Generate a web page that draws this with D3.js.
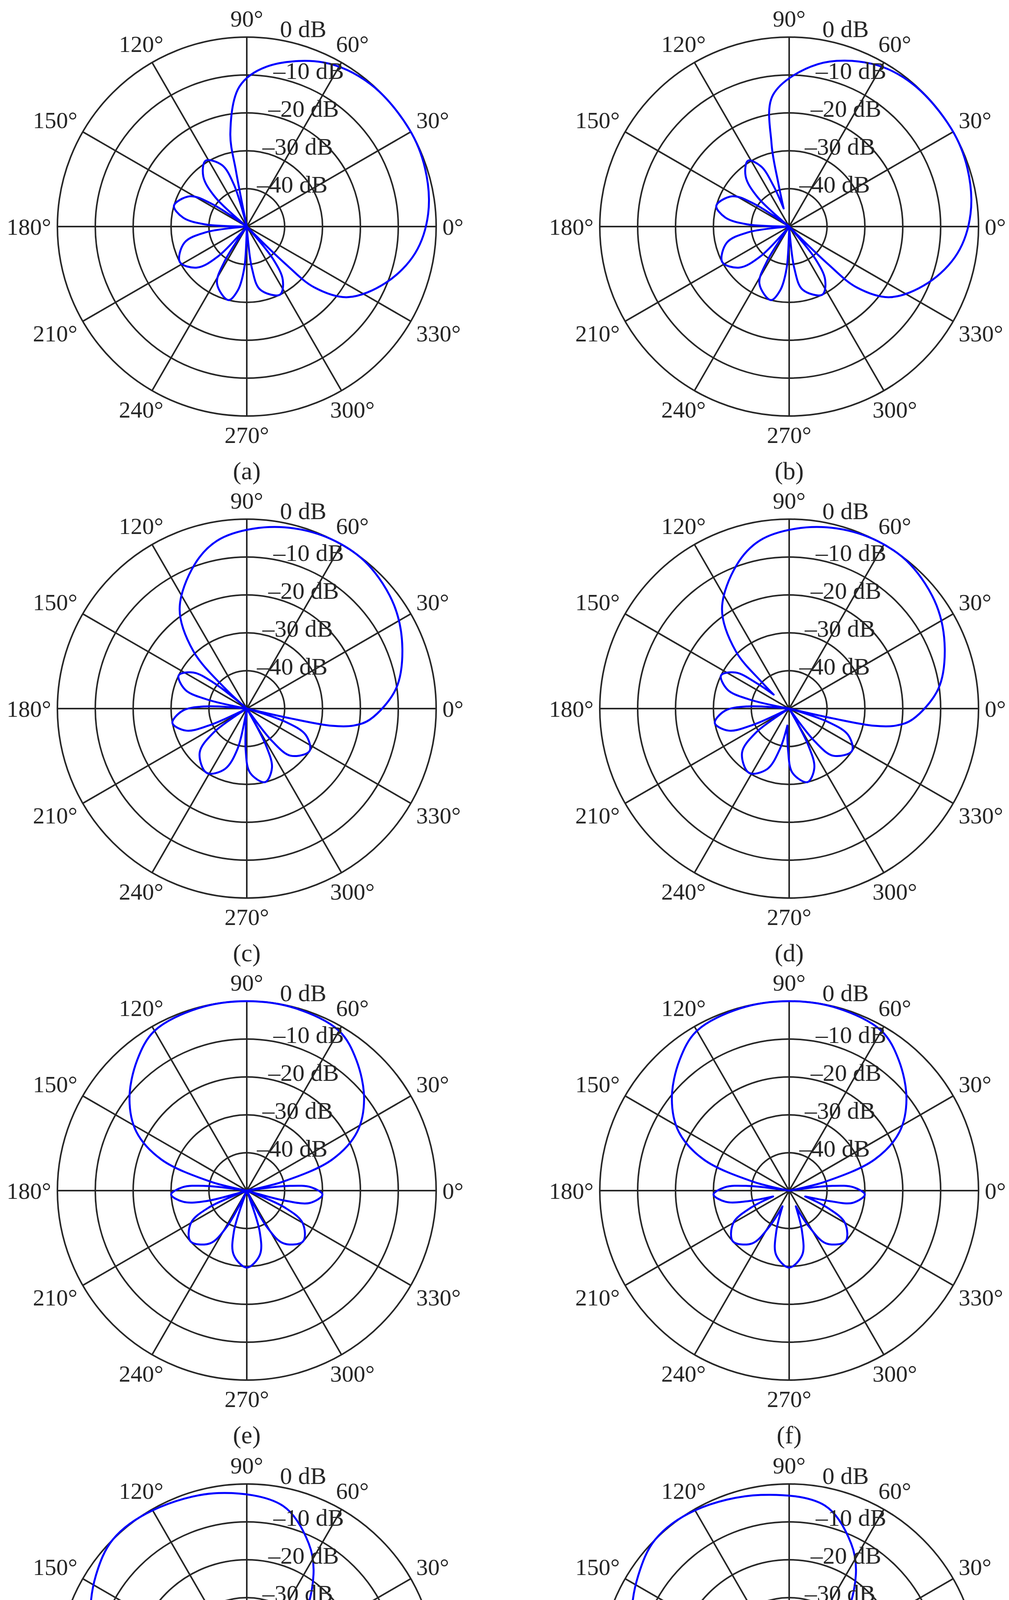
<!DOCTYPE html>
<html>
<head>
<meta charset="utf-8">
<script src="https://cdn.jsdelivr.net/npm/d3@7"></script>
<style>
  body { margin: 0; background: #fff; }
  text { font-family: "Liberation Serif", "DejaVu Serif", serif; fill: #262626; }
</style>
</head>
<body>
<div id="chart"></div>
<script>
var w = 2584
var h = 4967

// ring / spoke ticks
var ringDb = [0, -10, -20, -30, -40]
var ringLabels = ["0  dB", "\u201310 dB", "\u201320 dB", "\u201330 dB", "\u201340 dB"]
var spokeDeg = [0, 30, 60, 90, 120, 150, 180, 210, 240, 270, 300, 330]
var captions = ["(a)", "(b)", "(c)", "(d)", "(e)", "(f)", "(g)", "(h)"]

// patterns, [angle in degrees, level in dB]
// a null is written twice so the curve makes a cusp there
var patA = [
  [-46,-50],[-46,-50],[-44,-36],[-42,-26],[-35,-17.5],[-22,-10.4],[-9,-5],[4,-2],[18,-0.5],[31,0],[49,-0.2],[65,-2.2],[83,-7.5],[93,-13],[100,-25],[101,-35],[102,-50],[102,-50],
  [107,-38.5],[112,-32.5],[122,-29.5],[131,-32.5],[137,-38.5],[142,-50],[142,-50],
  [147,-39],[152,-33],[164,-30],[172,-33],[177,-39],[182,-50],[182,-50],
  [188,-39],[194.5,-33],[208,-30],[219.5,-33],[226,-39],[233,-50],[233,-50],
  [237.5,-39],[242.5,-33],[256,-30],[262,-33],[266.5,-39],[272,-50],[272,-50],
  [277,-39],[282,-33],[296,-30],[304,-33],[309,-39]
]
var patB = [
  [-46,-50],[-46,-50],[-44,-36],[-42,-26],[-35,-17.5],[-22,-10.4],[-9,-5],[4,-2],[18,-0.5],[31,0],[49,-0.2],[63,-1.8],[80,-6.5],[97,-15],[102,-27.6],[104,-38],[107,-45],[107,-45],
  [111,-38.5],[115,-32.5],[122,-29.5],[131,-32.5],[137,-38.5],[142,-50],[142,-50],
  [147,-39],[152,-33],[164,-30],[172,-33],[177,-39],[182,-50],[182,-50],
  [188,-39],[194.5,-33],[208,-30],[219.5,-33],[226,-39],[233,-50],[233,-50],
  [237.5,-39],[242.5,-33],[256,-30],[262,-33],[266.5,-39],[272,-50],[272,-50],
  [277,-39],[282,-33],[296,-30],[304,-33],[309,-39]
]
var patC = [
  [-14,-50],[-14,-50],[-12.6,-38],[-11.4,-27],[-9,-21.4],[-5,-17.3],[7.5,-10.3],[21,-6],[35,-2.5],[50,-0.3],[62,0],[75,-0.8],[88,-2.5],[100,-5],[110,-9.6],[124,-18.3],[133,-29.4],[137,-42],[138,-50],[138,-50],
  [142,-39],[146,-33],[154,-30],[163,-33],[167,-39],[173,-50],[173,-50],
  [177,-39],[182,-33],[191,-30],[200,-33],[204,-39],[209,-50],[209,-50],
  [216,-39],[223,-33],[238,-30],[250,-33],[257,-39],[264,-50],[264,-50],
  [268.5,-39],[273,-33],[284,-30],[293,-33],[297.5,-39],[303,-50],[303,-50],
  [308,-39],[313,-33],[326,-30],[336,-33],[341,-39]
]
var patD = [
  [-14,-50],[-14,-50],[-12.6,-38],[-11.4,-27],[-9,-21.4],[-5,-17.3],[7.5,-10.3],[21,-6],[35,-2.5],[50,-0.3],[62,0],[75,-0.8],[88,-2.5],[100,-5],[110,-9.6],[124,-18.3],[133,-29.4],[136,-40],[138,-44.5],[138,-44.5],
  [142,-39],[146,-33],[154,-30],[163,-33],[167,-39],[173,-50],[173,-50],
  [177,-39],[182,-33],[191,-30],[200,-33],[204,-39],[209,-50],[209,-50],
  [216,-39],[223,-33],[238,-30],[250,-33],[257,-39],[264,-45.5],[264,-45.5],
  [268.5,-39],[273,-33],[284,-30],[293,-33],[297.5,-39],[303,-50],[303,-50],
  [308,-39],[313,-33],[326,-30],[336,-33],[341,-39]
]
var patE = [
  [10,-50],[10,-50],[14,-40],[20,-26],[28,-17],[38,-10.7],[50,-5],[60,-1.3],[75,-0.2],[90,0],[105,-0.2],[120,-1.3],[130,-5],[142,-10.7],[152,-17],[160,-26],[166,-40],[170,-50],[170,-50],
  [173.5,-39],[177,-33],[183,-30],[190,-33],[194.5,-39],[198,-50],[198,-50],
  [204,-39],[210,-33],[222,-30],[235,-33],[241,-39],[247,-50],[247,-50],
  [252.5,-38.7],[258.5,-32.7],[270,-29.7],[281.5,-32.7],[287.5,-38.7],[293,-50],[293,-50],
  [299,-39],[305,-33],[318,-30],[330,-33],[336,-39],[342,-50],[342,-50],
  [345.5,-39],[349,-33],[357,-30],[363,-33],[366.5,-39]
]
var patF = [
  [10,-50],[10,-50],[14,-40],[20,-26],[28,-17],[38,-10.7],[50,-5],[60,-1.3],[75,-0.2],[90,0],[105,-0.2],[120,-1.3],[130,-5],[142,-10.7],[152,-17],[160,-26],[166,-40],[170,-50],[170,-50],
  [173.5,-39],[177,-33],[183,-30],[190,-33],[194.5,-39],[200,-45.5],[200,-45.5],
  [204,-39],[210,-33],[222,-30],[235,-33],[241,-39],[247,-45.5],[247,-45.5],
  [252.5,-38.7],[258.5,-32.7],[270,-29.7],[281.5,-32.7],[287.5,-38.7],[293,-45.5],[293,-45.5],
  [299,-39],[305,-33],[318,-30],[330,-33],[336,-39],[340,-45.5],[340,-45.5],
  [345.5,-39],[349,-33],[357,-30],[363,-33],[366.5,-39]
]
var patG = [
  [42,-50],[42,-50],[43.5,-40],[44.5,-29.4],[56,-18.5],[64.5,-12],[78,-4.7],[99,-1.8],[120,-0.3],[135,0],[147,-2.5],[159,-5.8],[174,-10.3],[186,-18.8],[192.5,-27.8],[193.5,-40],[194,-50],[194,-50],
  [199,-39],[204.5,-33],[213,-30.3],[225.5,-33],[231,-39],[236,-50],[236,-50],
  [240,-39],[245,-33],[255,-30.2],[263,-33],[267.5,-39],[272,-50],[272,-50],
  [278,-39],[285,-33],[300,-29.7],[310,-33],[317,-39],[323,-50],[323,-50],
  [328,-39],[333,-33],[347,-29.8],[353,-33],[358,-39],[363,-50],[363,-50],
  [367.5,-39],[373,-33],[389,-29.6],[393,-33],[397.5,-39]
]
var patH = [
  [41,-45.5],[41,-45.5],[43,-40],[45,-29.4],[56,-18.5],[64.5,-12],[78,-4.7],[99,-2.3],[120,-0.3],[135,0],[147,-2.5],[159,-5.6],[175,-11],[186,-18.8],[192.5,-27.8],[193.5,-40],[194,-50],[194,-50],
  [199,-39],[204.5,-33],[213,-30.3],[225.5,-33],[231,-39],[235,-46],[235,-46],
  [240,-39],[245,-33],[255,-30.2],[263,-33],[267.5,-39],[273,-45.5],[273,-45.5],
  [278,-39],[285,-33],[300,-29.7],[310,-33],[317,-39],[322,-47],[322,-47],
  [328,-39],[333,-33],[347,-29.8],[353,-33],[358,-39],[363,-50],[363,-50],
  [367.5,-39],[373,-33],[389,-29.6],[393,-33],[397.5,-39]
]
var patterns = [patA, patB, patC, patD, patE, patF, patG, patH]

var colX = [632, 2021]
var rowY = [580, 1814, 3048, 4284]
var R = 485

var svg = d3.select("#chart")
  .append("svg")
  .attr("width", w)
  .attr("height", h)

var r = d3.scaleLinear().domain([-50, 0]).range([0, R])
var rad = function(deg) { return deg * Math.PI / 180 }

var line = d3.lineRadial()
  .angle(function(d) { return rad(90 - d[0]) })
  .radius(function(d) { return r(d[1]) })
  .curve(d3.curveCatmullRomClosed.alpha(0.5))

// side labels hang off the spoke end, top/bottom ones are centred
function labelAnchor(d) {
  var c = Math.cos(rad(d))
  if (c > 0.8) return "start"
  if (c < -0.8) return "end"
  return "middle"
}
function labelX(d) {
  var c = Math.cos(rad(d))
  if (Math.abs(c) > 0.8) return (R + 16) * c
  return (R + 56) * c
}
function labelY(d) {
  var rr = R + 48 + 14 * Math.abs(Math.cos(rad(d)))
  return -rr * Math.sin(rad(d)) + 21
}

patterns.forEach(function(pat, i) {
  var cx = colX[i % 2]
  var cy = rowY[Math.floor(i / 2)]
  var g = svg.append("g").attr("transform", "translate(" + cx + "," + cy + ")")

  g.selectAll("line.spoke")
    .data(spokeDeg.filter(function(d) { return d < 180 })).enter()
    .append("line")
    .attr("x1", function(d) { return R * Math.cos(rad(d)) })
    .attr("y1", function(d) { return -R * Math.sin(rad(d)) })
    .attr("x2", function(d) { return -R * Math.cos(rad(d)) })
    .attr("y2", function(d) { return R * Math.sin(rad(d)) })
    .attr("stroke", "#262626")
    .attr("stroke-width", 4)

  g.selectAll("circle.ring")
    .data(ringDb).enter()
    .append("circle")
    .attr("r", function(d) { return r(d) })
    .attr("fill", "none")
    .attr("stroke", "#262626")
    .attr("stroke-width", 4)

  g.append("path")
    .datum(pat)
    .attr("d", line)
    .attr("fill", "none")
    .attr("stroke", "#0000ff")
    .attr("stroke-width", 5)
    .attr("stroke-linejoin", "round")

  var dbX = [85, 68, 55, 40, 26]
  g.selectAll("text.db")
    .data(ringDb).enter()
    .append("text")
    .attr("x", function(d, j) { return dbX[j] })
    .attr("y", function(d, j) { return -r(d) + (j == 0 ? 0 : 10) })
    .attr("font-size", 62)
    .text(function(d, j) { return ringLabels[j] })

  g.selectAll("text.deg")
    .data(spokeDeg).enter()
    .append("text")
    .attr("x", labelX)
    .attr("y", labelY)
    .attr("text-anchor", labelAnchor)
    .attr("font-size", 60)
    .text(function(d) { return d + "\u00b0" })

  g.append("text")
    .attr("x", 0)
    .attr("y", 647)
    .attr("text-anchor", "middle")
    .attr("font-size", 64)
    .text(captions[i])
})
</script>
</body>
</html>
